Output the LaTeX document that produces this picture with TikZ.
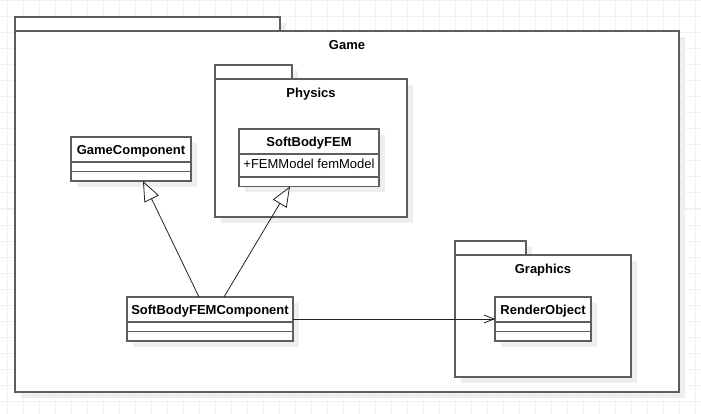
\documentclass[tikz,border=0pt]{standalone}
\usepackage{fontspec}
\setmainfont{Liberation Sans}
\usetikzlibrary{positioning,arrows.meta,shadows}

\definecolor{linegray}{HTML}{5E5E5E}
\definecolor{shadowgray}{HTML}{EEEEEE}
\definecolor{gridgray}{HTML}{F1F1F1}
\definecolor{connector}{HTML}{222222}

\begin{document}
\begin{tikzpicture}[
    x=1pt, y=-1pt,
    gridline/.style={draw=gridgray, line width=1pt},
    umlbox/.style={draw=linegray, line width=1.5pt, fill=white, outer sep=0pt, inner sep=0pt,
        drop shadow={shadow xshift=6pt, shadow yshift=-6pt, fill=shadowgray, opacity=1}},
    pkgtab/.style={umlbox, anchor=north west, minimum height=14pt},
    pkgbody/.style={umlbox, anchor=north west},
    pkgname/.style={font=\fontsize{13pt}{15pt}\selectfont\bfseries, text height=9.6pt, text depth=0pt,
        inner sep=0pt, anchor=center, label distance=-13.5pt},
    classname/.style={umlbox, anchor=north west, minimum width=#1, minimum height=25pt,
        font=\fontsize{13pt}{15pt}\selectfont\bfseries, text height=9.6pt, text depth=0pt},
    classattr/.style={umlbox, minimum width=#1, minimum height=23pt,
        font=\fontsize{13pt}{15pt}\selectfont, text height=9.6pt, text depth=2.6pt},
    classpart/.style={umlbox, minimum width=#1, minimum height=9.5pt},
    generalize/.style={draw=connector, line width=0.8pt, -{Triangle[open, length=20pt, width=16pt]}},
    assoc/.style={draw=connector, line width=0.8pt, -{Straight Barb[length=10pt, width=8pt]}}
]
    \useasboundingbox (0,0) rectangle (701,414);
    \fill[white] (0,0) rectangle (701,414);

    % Background grid
    \foreach \gx in {7,23,...,701} \draw[gridline] (\gx,0) -- (\gx,414);
    \foreach \gy in {1,17,...,414} \draw[gridline] (0,\gy) -- (701,\gy);

    % Game package
    \node[pkgtab, minimum width=265pt] (game-tab) at (15,17) {};
    \node[pkgbody, minimum width=664pt, minimum height=361pt,
        label={[pkgname]north:Game}] (game) at (game-tab.south west) {};

    % Physics package
    \node[pkgtab, minimum width=77pt] (physics-tab) at (215,65) {};
    \node[pkgbody, minimum width=192pt, minimum height=138pt,
        label={[pkgname]north:Physics}] (physics) at (physics-tab.south west) {};

    \node[classname=140pt] (sbf) at (239,129) {SoftBodyFEM};
    \node[classattr=140pt, below=0pt of sbf] (sbf-attr) {+FEMModel femModel};
    \node[classpart=140pt, below=0pt of sbf-attr] (sbf-ops) {};

    % GameComponent
    \node[classname=120pt] (gc) at (71,137) {GameComponent};
    \node[classpart=120pt, below=0pt of gc] (gc-attr) {};
    \node[classpart=120pt, below=0pt of gc-attr] (gc-ops) {};

    % Graphics package
    \node[pkgtab, minimum width=71pt] (graphics-tab) at (455,241) {};
    \node[pkgbody, minimum width=176pt, minimum height=122pt,
        label={[pkgname]north:Graphics}] (graphics) at (graphics-tab.south west) {};

    \node[classname=96pt] (ro) at (495,297) {RenderObject};
    \node[classpart=96pt, below=0pt of ro] (ro-attr) {};
    \node[classpart=96pt, below=0pt of ro-attr] (ro-ops) {};

    % SoftBodyFEMComponent
    \node[classname=166pt] (sbfc) at (127,297) {SoftBodyFEMComponent};
    \node[classpart=166pt, below=0pt of sbfc] (sbfc-attr) {};
    \node[classpart=166pt, below=0pt of sbfc-attr] (sbfc-ops) {};

    % Connections
    \draw[generalize] ([xshift=-11pt]sbfc.north) -- ([xshift=12pt]gc-ops.south);
    \draw[generalize] ([xshift=14pt]sbfc.north) -- ([xshift=-19pt]sbf-ops.south);
    \draw[assoc] ([yshift=-9.5pt]sbfc.east) -- ([yshift=-9.5pt]ro.west);
\end{tikzpicture}
\end{document}
